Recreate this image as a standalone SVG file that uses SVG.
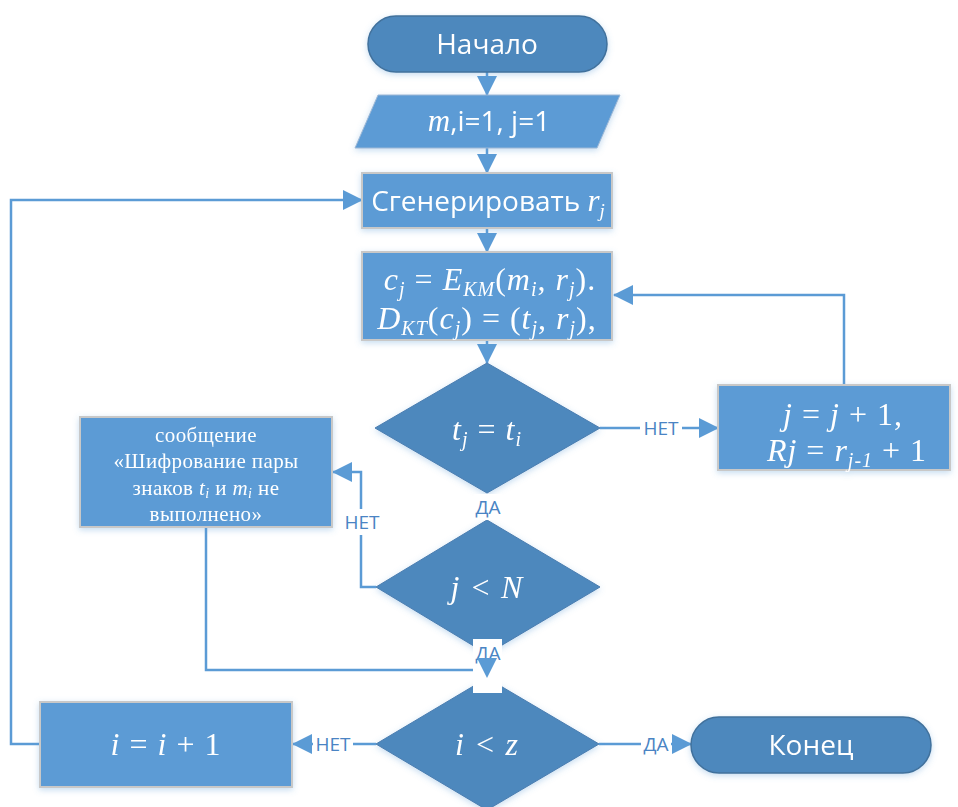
<svg xmlns="http://www.w3.org/2000/svg" width="958" height="807" viewBox="0 0 958 807">
  <defs>
    <filter id="soft" x="-10%" y="-10%" width="120%" height="130%">
      <feDropShadow dx="0" dy="2" stdDeviation="3" flood-color="#5B9BD5" flood-opacity="0.35"/>
    </filter>
    <marker id="head" viewBox="0 0 20 20" markerWidth="20" markerHeight="20" refX="19" refY="10" orient="auto" markerUnits="userSpaceOnUse">
      <path d="M0,0 L20,10 L0,20 z" fill="#5B9BD5"/>
    </marker>
  </defs>
  <style>
    .term { fill: #4E88BD; stroke: #41719C; stroke-width: 1.5; }
    .dec { fill: #4E88BD; stroke: #4A7DB0; stroke-width: 1; }
    .proc { fill: #5B9BD5; stroke: #C8C8C8; stroke-width: 2; }
    .conn { fill: none; stroke: #5B9BD5; stroke-width: 2.5; }
    .sans { font-family: "Open Sans", "Noto Sans", sans-serif; fill: #FFFFFF; }
    .math { font-family: "Liberation Serif", "Times New Roman", serif; fill: #FFFFFF; }
    .eq { font-size: 32px; letter-spacing: 1px; text-anchor: middle; }
    .lbl { font-family: "Open Sans", "Noto Sans", sans-serif; fill: #4A84C4; font-size: 19px; text-anchor: middle; }
    .it { font-style: italic; }
    .gap { fill: #FFFFFF; }
  </style>

  <!-- connectors -->
  <g id="connectors">
    <line class="conn" x1="487" y1="72" x2="487" y2="95" marker-end="url(#head)"/>
    <line class="conn" x1="487" y1="148" x2="487" y2="173" marker-end="url(#head)"/>
    <line class="conn" x1="487" y1="228" x2="487" y2="252" marker-end="url(#head)"/>
    <line class="conn" x1="487" y1="340" x2="487" y2="363" marker-end="url(#head)"/>
    <!-- t_j = t_i : no -> update j -->
    <line class="conn" x1="600" y1="428" x2="718" y2="428" marker-end="url(#head)"/>
    <rect class="gap" x="640" y="417" width="42" height="22"/>
    <text class="lbl" x="661" y="435">НЕТ</text>
    <!-- loop back to encryption -->
    <polyline class="conn" points="844,385 844,295 614,295" marker-end="url(#head)"/>
    <!-- j < N : no -> message -->
    <polyline class="conn" points="376,587 361,587 361,472 333,472" marker-end="url(#head)"/>
    <rect class="gap" x="341" y="509" width="42" height="26"/>
    <text class="lbl" x="362" y="529">НЕТ</text>
    <!-- message -> i < z -->
    <polyline class="conn" points="206,527 206,670 487,670"/>
    <!-- i < z : no -> increment i -->
    <line class="conn" x1="376" y1="744" x2="293" y2="744" marker-end="url(#head)"/>
    <rect class="gap" x="313" y="733" width="40" height="22"/>
    <text class="lbl" x="333" y="751">НЕТ</text>
    <!-- back to generation -->
    <polyline class="conn" points="40,744 11,744 11,200 362,200" marker-end="url(#head)"/>
    <!-- i < z : yes -> end -->
    <line class="conn" x1="599" y1="744" x2="691" y2="744" marker-end="url(#head)"/>
    <rect class="gap" x="641" y="733" width="30" height="22"/>
    <text class="lbl" x="656" y="751">ДА</text>
  </g>

  <g id="start" filter="url(#soft)">
    <rect class="term" x="368" y="16" width="239" height="56" rx="28" ry="28"/>
    <text class="sans" x="487" y="54" font-size="28" text-anchor="middle">Начало</text>
  </g>

  <g id="input" filter="url(#soft)">
    <polygon class="proc" points="378,95 620,95 597,148 355,148" style="stroke:#9DB8D6;stroke-width:1"/>
    <text x="489" y="131" text-anchor="middle"><tspan class="math it" font-size="31">m</tspan><tspan class="sans" font-size="28">,i=1, j=1</tspan></text>
  </g>

  <g id="generate" filter="url(#soft)">
    <rect class="proc" x="362" y="173" width="250" height="55"/>
    <text x="488" y="211" text-anchor="middle"><tspan class="sans" font-size="28">Сгенерировать </tspan><tspan class="math it" font-size="31">r</tspan><tspan class="math it" font-size="19" dy="6">j</tspan></text>
  </g>

  <g id="encrypt" filter="url(#soft)">
    <rect class="proc" x="362" y="252" width="250" height="88"/>
    <text class="math eq" x="490" y="290"><tspan class="it">c</tspan><tspan class="it" font-size="20" dy="6">j</tspan><tspan dy="-6"> = </tspan><tspan class="it">E</tspan><tspan class="it" font-size="20" dy="6">KM</tspan><tspan dy="-6">(</tspan><tspan class="it">m</tspan><tspan class="it" font-size="20" dy="6">i</tspan><tspan dy="-6">, </tspan><tspan class="it">r</tspan><tspan class="it" font-size="20" dy="6">j</tspan><tspan dy="-6">).</tspan></text>
    <text class="math eq" x="487" y="329"><tspan class="it">D</tspan><tspan class="it" font-size="20" dy="6">KT</tspan><tspan dy="-6">(</tspan><tspan class="it">c</tspan><tspan class="it" font-size="20" dy="6">j</tspan><tspan dy="-6">) = (</tspan><tspan class="it">t</tspan><tspan class="it" font-size="20" dy="6">j</tspan><tspan dy="-6">, </tspan><tspan class="it">r</tspan><tspan class="it" font-size="20" dy="6">j</tspan><tspan dy="-6">),</tspan></text>
  </g>

  <g id="check-t" filter="url(#soft)">
    <polygon class="dec" points="487,363 600,428 487,493 375,428"/>
    <text class="math eq" x="487" y="440"><tspan class="it">t</tspan><tspan class="it" font-size="20" dy="6">j</tspan><tspan dy="-6">  =  </tspan><tspan class="it">t</tspan><tspan class="it" font-size="20" dy="6">i</tspan></text>
  </g>

  <g id="update-j" filter="url(#soft)">
    <rect class="proc" x="718" y="385" width="232" height="85"/>
    <text class="math eq" x="843" y="425"><tspan class="it">j</tspan> = <tspan class="it">j</tspan> + 1,</text>
    <text class="math eq" x="847" y="461"><tspan class="it">Rj</tspan> =  <tspan class="it">r</tspan><tspan class="it" font-size="20" dy="6">j-1</tspan><tspan dy="-6"> + 1</tspan></text>
  </g>

  <g id="message" filter="url(#soft)">
    <rect class="proc" x="80" y="417" width="252" height="110"/>
    <g class="math" font-size="21" letter-spacing="0.4" text-anchor="middle">
      <text x="206" y="442">сообщение</text>
      <text x="206" y="468">«Шифрование пары</text>
      <text x="206" y="495">знаков <tspan class="it">t</tspan><tspan class="it" font-size="14" dy="3">i</tspan><tspan dy="-3"> и </tspan><tspan class="it">m</tspan><tspan class="it" font-size="14" dy="3">i</tspan><tspan dy="-3"> не</tspan></text>
      <text x="206" y="521">выполнено»</text>
    </g>
  </g>

  <g id="check-j" filter="url(#soft)">
    <polygon class="dec" points="487,520 600,587 487,654 376,587"/>
    <text class="math eq it" x="487" y="598">j &lt; N</text>
  </g>

  <g id="check-i" filter="url(#soft)">
    <polygon class="dec" points="487,678 599,744 487,810 376,744"/>
    <text class="math eq it" x="487" y="755">i &lt; z</text>
  </g>

  <g id="increment-i" filter="url(#soft)">
    <rect class="proc" x="40" y="702" width="252" height="85"/>
    <text class="math eq" x="166" y="755"><tspan class="it">i</tspan> = <tspan class="it">i</tspan> + 1</text>
  </g>

  <g id="end" filter="url(#soft)">
    <rect class="term" x="691" y="717" width="240" height="56" rx="28" ry="28"/>
    <text class="sans" x="811" y="755" font-size="28" text-anchor="middle">Конец</text>
  </g>

  <!-- "yes" labels on the main column, laid over the decision tips -->
  <g id="main-labels">
    <rect class="gap" x="474" y="494" width="28" height="26"/>
    <text class="lbl" x="488" y="514">ДА</text>
    <rect class="gap" x="473" y="639" width="29" height="54"/>
    <text class="lbl" x="488" y="660">ДА</text>
    <polygon points="477,658 497,658 487,678" fill="#5B9BD5"/>
  </g>
</svg>
